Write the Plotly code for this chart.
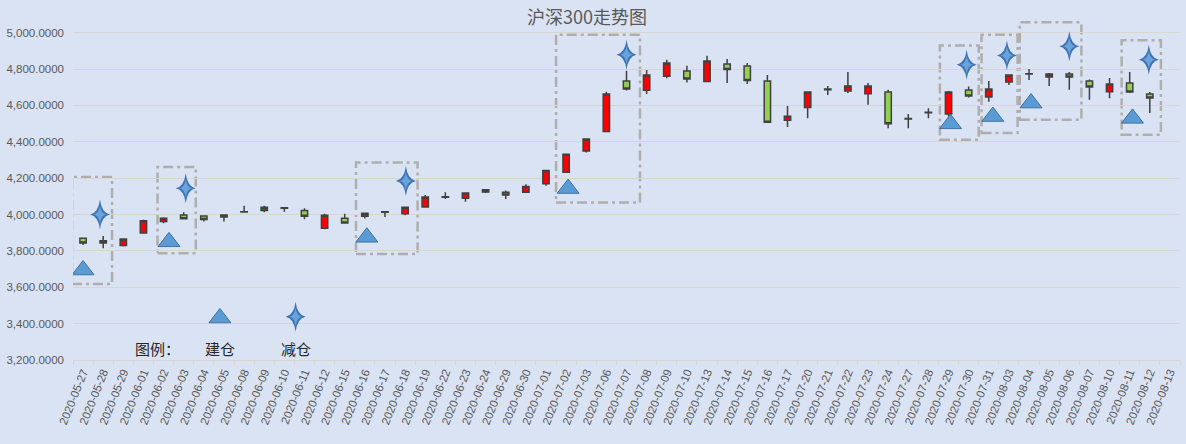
import plotly.graph_objects as go

# trading days (the last one has no candle in the source chart)
dates = ["2020-05-27", "2020-05-28", "2020-05-29", "2020-06-01", "2020-06-02", "2020-06-03",
         "2020-06-04", "2020-06-05", "2020-06-08", "2020-06-09", "2020-06-10", "2020-06-11",
         "2020-06-12", "2020-06-15", "2020-06-16", "2020-06-17", "2020-06-18", "2020-06-19",
         "2020-06-22", "2020-06-23", "2020-06-24", "2020-06-29", "2020-06-30", "2020-07-01",
         "2020-07-02", "2020-07-03", "2020-07-06", "2020-07-07", "2020-07-08", "2020-07-09",
         "2020-07-10", "2020-07-13", "2020-07-14", "2020-07-15", "2020-07-16", "2020-07-17",
         "2020-07-20", "2020-07-21", "2020-07-22", "2020-07-23", "2020-07-24", "2020-07-27",
         "2020-07-28", "2020-07-29", "2020-07-30", "2020-07-31", "2020-08-03", "2020-08-04",
         "2020-08-05", "2020-08-06", "2020-08-07", "2020-08-10", "2020-08-11", "2020-08-12",
         "2020-08-13"]

open_ = [3870, 3843, 3830, 3898, 3962, 3998, 3992, 3986, 4014, 4022, 4037, 4022,
         3925, 3980, 3991, 4013, 4004, 4041, 4095, 4090, 4124, 4123, 4123, 4169,
         4233, 4349, 4457, 4734, 4683, 4760, 4789, 4732, 4828, 4817, 4734, 4519,
         4589, 4687, 4679, 4665, 4674, 4526, 4560, 4553, 4685, 4646, 4729, 4773,
         4757, 4773, 4734, 4675, 4723, 4663]
high = [3872, 3882, 3869, 3971, 3985, 4013, 3994, 3999, 4048, 4048, 4039, 4035,
        4004, 4004, 4008, 4016, 4041, 4108, 4123, 4119, 4141, 4132, 4167, 4245,
        4334, 4417, 4675, 4791, 4795, 4851, 4818, 4873, 4855, 4833, 4767, 4597,
        4675, 4707, 4784, 4723, 4686, 4553, 4585, 4679, 4704, 4734, 4768, 4800,
        4778, 4784, 4743, 4751, 4784, 4674]
low = [3833, 3815, 3824, 3897, 3952, 3975, 3962, 3962, 4013, 4013, 4016, 3974,
       3919, 3952, 3978, 3986, 3996, 4040, 4085, 4071, 4118, 4085, 4122, 4158,
       4232, 4341, 4456, 4682, 4663, 4749, 4726, 4731, 4723, 4718, 4507, 4481,
       4530, 4657, 4668, 4604, 4475, 4475, 4530, 4539, 4644, 4620, 4712, 4740,
       4707, 4686, 4631, 4640, 4668, 4558]
close = [3843, 3856, 3866, 3966, 3980, 3977, 3973, 3997, 4016, 4040, 4035, 3991,
         3996, 3953, 4007, 4015, 4040, 4096, 4098, 4118, 4136, 4108, 4154, 4242,
         4332, 4415, 4663, 4690, 4767, 4833, 4745, 4844, 4798, 4737, 4508, 4541,
         4674, 4690, 4707, 4707, 4499, 4528, 4562, 4674, 4652, 4690, 4767, 4775,
         4773, 4756, 4701, 4718, 4674, 4641]

# trade signals (x in trading-day index, y in index points)
buy_x = [0.0, 4.27, 14.1, 24.1, 43.1, 45.2, 47.1, 52.14]
buy_y = [3695, 3850, 3875, 4143, 4499, 4539, 4613, 4529]
sell_x = [0.84, 5.1, 16.04, 27.0, 43.9, 45.9, 49.0, 52.95]
sell_y = [4000, 4145, 4185, 4879, 4824, 4875, 4925, 4851]

# highlighted windows: x0, x1, y0, y1
windows = [(-0.55, 1.44, 3618, 4206), (3.7, 5.6, 3787, 4261), (13.56, 16.62, 3783, 4286),
           (23.5, 27.67, 4066, 4989), (42.57, 44.5, 4411, 4930), (44.64, 46.43, 4448, 4989),
           (46.54, 49.6, 4521, 5057), (51.6, 53.55, 4439, 4958)]

y_ticks = [3200, 3400, 3600, 3800, 4000, 4200, 4400, 4600, 4800, 5000]

bg = "#dae3f3"
txt = "#595959"
grid = "#d9d5cf"
cjk = "Noto Sans CJK SC"

tri = dict(symbol="triangle-up", size=19, color="#5b9bd5",
           line=dict(color="#41719c", width=1))


def star_path(hw, hh, k):
    # thin four-pointed star, concave sides, in pixels around the anchor
    return ("M0,{h} Q{k},{k} {w},0 Q{k},-{k} 0,-{h} "
            "Q-{k},-{k} -{w},0 Q-{k},{k} 0,{h} Z").format(w=hw, h=hh, k=k)


def add_star(fig, x, y):
    fig.add_shape(type="path", xref="x", yref="y", xsizemode="pixel", ysizemode="pixel",
                  xanchor=x, yanchor=y, path=star_path(10, 15, 1.6),
                  fillcolor="#3f74b4", line=dict(width=0), layer="above")
    fig.add_shape(type="path", xref="x", yref="y", xsizemode="pixel", ysizemode="pixel",
                  xanchor=x, yanchor=y, path=star_path(6, 9, 1.1),
                  fillcolor="#6aa3db", line=dict(width=0), layer="above")


idx = list(range(len(dates)))

fig = go.Figure()

fig.add_trace(go.Candlestick(
    x=idx[:len(open_)], open=open_, high=high, low=low, close=close,
    increasing=dict(fillcolor="#ff0000", line=dict(color="#404040", width=1.5)),
    decreasing=dict(fillcolor="#92d050", line=dict(color="#404040", width=1.5)),
    whiskerwidth=0, showlegend=False, hoverinfo="x+y"))

fig.add_trace(go.Scatter(x=buy_x, y=buy_y, mode="markers", showlegend=False, marker=tri))
for sx, sy in zip(sell_x, sell_y):
    add_star(fig, sx, sy)

# hand-made legend in the lower left
fig.add_trace(go.Scatter(x=[6.8], y=[3431], mode="markers", showlegend=False,
                         hoverinfo="skip", marker=tri))
add_star(fig, 10.56, 3438)
for tx, label in [(3.72, "图例："), (6.8, "建仓"), (10.56, "减仓")]:
    fig.add_annotation(x=tx, y=3266, text=label, showarrow=False,
                       font=dict(family=cjk, size=15, color="#262626"))

for x0, x1, y0, y1 in windows:
    fig.add_shape(type="rect", x0=x0, x1=x1, y0=y0, y1=y1, xref="x", yref="y",
                  line=dict(color="rgba(165,160,155,0.8)", width=2.5,
                            dash="10px,4px,3px,4px"),
                  fillcolor="rgba(0,0,0,0)", layer="below")

fig.update_layout(
    width=1186, height=444,
    paper_bgcolor=bg, plot_bgcolor=bg,
    margin=dict(l=73, r=6, t=20, b=84),
    boxgap=0.55,
    title=dict(text="沪深300走势图", x=0.495, xanchor="center", y=0.96, yanchor="middle",
               font=dict(family=cjk, size=18, color=txt)),
    font=dict(family="Liberation Sans", color=txt),
    hovermode="closest",
)

fig.update_xaxes(
    range=[-0.5, len(dates) - 0.5], tickmode="array", tickvals=idx, ticktext=dates,
    tickangle=-68, tickfont=dict(size=11.5, color=txt), ticks="",
    showgrid=False, zeroline=False, showline=True, linecolor=grid, linewidth=1,
    minor=dict(tickmode="linear", tick0=-0.5, dtick=1, ticks="outside",
               ticklen=4, tickcolor=grid, showgrid=False),
    rangeslider=dict(visible=False), fixedrange=True)

fig.update_yaxes(
    range=[3200, 5070], tickmode="array", tickvals=y_ticks, tickformat=",.4f",
    tickfont=dict(size=11.5, color=txt), ticklabelstandoff=8,
    showgrid=True, gridcolor=grid, gridwidth=1,
    zeroline=False, showline=False, fixedrange=True)

# drop the default page margin so the figure fills the window
fig.write_html("out.html", config={"displayModeBar": False},
               post_script="document.body.style.margin='0';"
                           "document.body.style.background='%s';" % bg)
